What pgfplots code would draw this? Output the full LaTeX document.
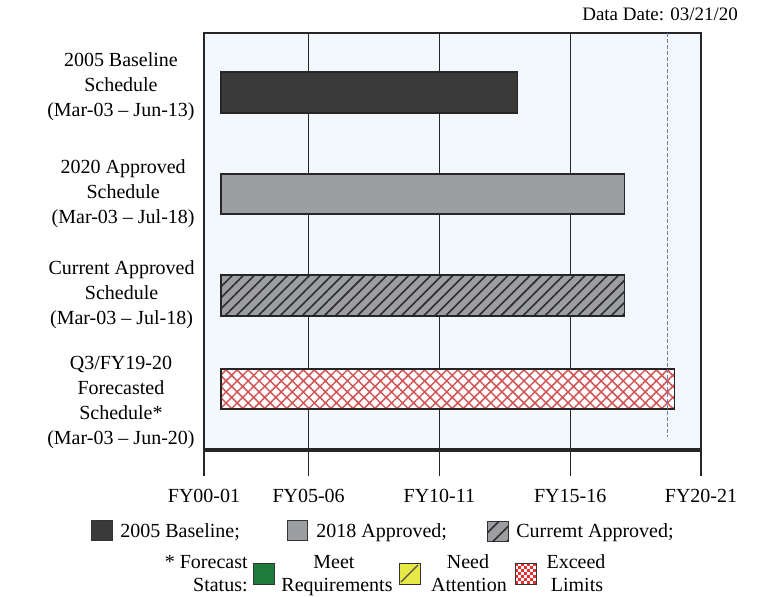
\documentclass[border=0pt]{standalone}
\usepackage{fontspec}
\setmainfont{Liberation Serif}
\usepackage{pgfplots}
\pgfplotsset{compat=1.18}
\usetikzlibrary{patterns,patterns.meta}
\definecolor{plotbg}{RGB}{243,248,252}
\definecolor{basefill}{RGB}{58,58,58}
\definecolor{apprfill}{RGB}{157,158,162}
\definecolor{stripe}{RGB}{45,45,45}
\definecolor{hatchred}{RGB}{210,85,85}
\definecolor{ddline}{RGB}{115,120,185}
\definecolor{okgreen}{RGB}{30,125,60}
\definecolor{warnyellow}{RGB}{232,232,70}
\definecolor{checkred}{RGB}{235,45,45}

\begin{document}
\begin{tikzpicture}[font=\fontsize{10}{12.5}\selectfont]
\useasboundingbox (0,0) rectangle (380pt,298pt);
\begin{axis}[
  at={(102pt,73pt)}, anchor=south west,
  scale only axis, width=248.5pt, height=208.5pt,
  xmin=2001, xmax=2020,
  ymin=0.33, ymax=4.50, y dir=reverse,
  axis background/.style={fill=plotbg},
  axis line style={black!85, line width=0.7pt},
  xtick={2001,2005,2010,2015,2020},
  xticklabels={FY00-01,FY05-06,FY10-11,FY15-16,FY20-21},
  xtick pos=left,
  xmajorgrids, grid style={black!85, line width=0.6pt},
  tick align=outside, major tick length=13pt,
  xtick style={black!85, line width=0.6pt},
  ytick style={draw=none},
  ytick={0.87,1.94,2.95,4.02},
  yticklabels={
    {2005 Baseline\\Schedule\\(Mar-03 – Jun-13)},
    {2020 Approved\\Schedule\\(Mar-03 – Jul-18)},
    {Current Approved\\Schedule\\(Mar-03 – Jul-18)},
    {Q3/FY19-20\\Forecasted\\Schedule*\\(Mar-03 – Jun-20)}},
  yticklabel style={align=center, inner sep=0pt, xshift=8.5pt,
    font=\fontsize{10}{12.5}\selectfont},
  xticklabel style={font=\fontsize{10}{12.5}\selectfont, yshift=-3pt},
]
% bars: start/end in years, top/bottom edges on the category scale
\addplot[draw=black!85, line width=0.6pt, fill=basefill]
  coordinates {(2001.65,0.72)(2012.98,0.72)(2012.98,1.13)(2001.65,1.13)} -- cycle;
\addplot[draw=black!85, line width=0.6pt, fill=apprfill]
  coordinates {(2001.65,1.74)(2017.07,1.74)(2017.07,2.14)(2001.65,2.14)} -- cycle;
\addplot[draw=black!85, line width=0.6pt, fill=apprfill,
  postaction={pattern={Lines[angle=45,distance=3.9pt,line width=0.8pt]}, pattern color=stripe}]
  coordinates {(2001.65,2.75)(2017.07,2.75)(2017.07,3.16)(2001.65,3.16)} -- cycle;
\addplot[draw=black!85, line width=0.6pt, fill=white,
  postaction={pattern={Hatch[angle=45,distance=3.9pt,line width=0.75pt]}, pattern color=hatchred}]
  coordinates {(2001.65,3.69)(2018.98,3.69)(2018.98,4.09)(2001.65,4.09)} -- cycle;
% data date
\addplot[ddline, dash pattern=on 2pt off 1pt, line width=0.7pt] coordinates {(2018.71,0.33)(2018.71,4.37)};
\end{axis}
\draw[black!85, line width=2pt] (102pt,73pt) -- (350.5pt,73pt);
\node[anchor=base east, font=\fontsize{9.5}{11}\selectfont] at (372.5pt,287.5pt) {Data Date: 03/21/20};

\begin{scope}[x=0.5pt, y=-0.5pt, yshift=298pt]
  % row 1
  \draw[black!80, line width=0.5pt, fill=basefill] (91,520) rectangle (112,540);
  \node[anchor=base west, inner sep=0pt] at (120,537) {2005 Baseline;};
  \draw[black!80, line width=0.5pt, fill=apprfill] (287,520) rectangle (307,540);
  \node[anchor=base west, inner sep=0pt] at (316,537) {2018 Approved;};
  \draw[black!80, line width=0.5pt, fill=apprfill,
    postaction={pattern={Lines[angle=45,distance=5pt,line width=0.8pt]}, pattern color=stripe}]
    (487,521) rectangle (508,541);
  \node[anchor=base west, inner sep=0pt] at (516,537) {Curremt Approved;};
  % row 2
  \node[anchor=base east, inner sep=0pt] at (248,568) {* Forecast};
  \node[anchor=base east, inner sep=0pt] at (248,591) {Status:};
  \draw[black!80, line width=0.5pt, fill=okgreen] (253,563) rectangle (274,584);
  \node[anchor=base, inner sep=0pt] at (334,568) {Meet};
  \node[anchor=base, inner sep=0pt] at (337,591) {Requirements};
  \draw[black!80, line width=0.5pt, fill=warnyellow] (399,563) rectangle (420,584);
  \draw[black!70, line width=0.6pt] (401,582) -- (418,565);
  \node[anchor=base, inner sep=0pt] at (468,568) {Need};
  \node[anchor=base, inner sep=0pt] at (469,591) {Attention};
  \fill[white] (515,563) rectangle (536,584);
  \foreach \i in {0,...,6} {
    \foreach \j in {0,...,6} {
      \pgfmathtruncatemacro\odd{mod(\i+\j,2)}
      \ifnum\odd=0 \fill[checkred] (515+3*\i,563+3*\j) rectangle ++(3,3); \fi
    }
  }
  \draw[black!80, line width=0.5pt] (515,563) rectangle (536,584);
  \node[anchor=base, inner sep=0pt] at (576,568) {Exceed};
  \node[anchor=base, inner sep=0pt] at (577,591) {Limits};
\end{scope}
\end{tikzpicture}
\end{document}
